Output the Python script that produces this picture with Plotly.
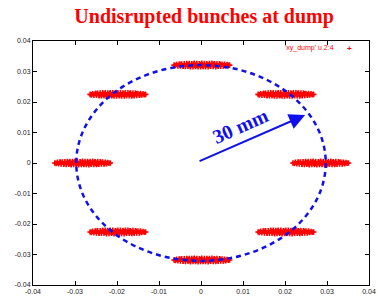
import plotly.graph_objects as go

# Bunch centres (m)
bunch_x = [0.0002, 0.0202, 0.0285, 0.0202, 0.0002, -0.0198, -0.0282, -0.0198]
bunch_y = [0.0321, 0.0225, 0.0000, -0.0226, -0.0318, -0.0226, 0.0000, 0.0225]

# Hand-read shape of one bunch cloud (offsets in mm)
cloud_dx = [-6.6, -6.3, -6.0, -5.7, -5.4, -5.1, -4.8, -4.5, -4.2, -3.9, -3.6, -3.3,
            -3.0, -2.7, -2.4, -2.1, -1.8, -1.5, -1.2, -0.9, -0.6, -0.3, 0.0, 0.3,
            0.6, 0.9, 1.2, 1.5, 1.8, 2.1, 2.4, 2.7, 3.0, 3.3, 3.6, 3.9, 4.2, 4.5,
            4.8, 5.1, 5.4, 5.7, 6.0, 6.3, 6.6,
            -5.2, -4.4, -3.6, -2.8, -2.0, -1.2, -0.4, 0.4, 1.2, 2.0, 2.8, 3.6,
            4.4, 5.2, -3.2, -1.6, 0.0, 1.6, 3.2]
cloud_dy = [0.0, -0.15, 0.2, -0.25, 0.3, -0.3, 0.35, -0.4, 0.4, -0.45, 0.5, -0.4,
            0.5, -0.55, 0.45, -0.5, 0.55, -0.45, 0.5, -0.55, 0.4, -0.5, 0.55, -0.45,
            0.5, -0.5, 0.45, -0.55, 0.5, -0.4, 0.55, -0.45, 0.4, -0.5, 0.45, -0.4,
            0.4, -0.35, 0.3, -0.3, 0.25, -0.2, 0.15, -0.1, 0.0,
            0.25, -0.25, 0.2, -0.2, 0.25, -0.15, 0.2, -0.25, 0.15, -0.2, 0.25, -0.2,
            0.2, -0.15, 0.05, -0.05, 0.0, 0.05, -0.05]

# Reference circle (drawn as dashed outline) and arrow
ring_rx = 0.0297
ring_ry = 0.0321
arrow_tail = (-0.0007, 0.0004)
arrow_tip = (0.0248, 0.0157)

tick_vals = [-0.04, -0.03, -0.02, -0.01, 0, 0.01, 0.02, 0.03, 0.04]
tick_text = ["-0.04", "-0.03", "-0.02", "-0.01", "0", "0.01", "0.02", "0.03", "0.04"]

px, py = [], []
for cx, cy in zip(bunch_x, bunch_y):
    for dx, dy in zip(cloud_dx, cloud_dy):
        px.append(cx + dx * 1e-3)
        py.append(cy + dy * 1e-3)

fig = go.Figure()
fig.add_trace(go.Scatter(
    x=px, y=py, mode="markers", showlegend=False,
    marker=dict(symbol="cross-thin", size=4, line=dict(color="#ff0000", width=1.6)),
))

fig.add_shape(type="circle", xref="x", yref="y",
              x0=-ring_rx, x1=ring_rx, y0=-ring_ry, y1=ring_ry,
              line=dict(color="#1010ee", width=2.5, dash="5px,4px"), layer="above")

fig.add_annotation(x=arrow_tip[0], y=arrow_tip[1], ax=arrow_tail[0], ay=arrow_tail[1],
                   xref="x", yref="y", axref="x", ayref="y", text="",
                   showarrow=True, arrowhead=2, arrowsize=1.6, arrowwidth=2,
                   arrowcolor="#1010ee")

fig.add_annotation(x=0.0093, y=0.0122, xref="x", yref="y", text="<b>30 mm</b>",
                   showarrow=False, textangle=-24,
                   font=dict(family="Liberation Serif", size=20, color="#1010ee"))

# Key (gnuplot style: text, then sample)
fig.add_annotation(x=0.902, y=0.971, xref="paper", yref="paper", text="'xy_dump' u 2:4",
                   showarrow=False, xanchor="right", yanchor="middle",
                   font=dict(family="Liberation Sans", size=7, color="#ff0000"))
fig.add_annotation(x=0.943, y=0.971, xref="paper", yref="paper", text="<b>+</b>",
                   showarrow=False, xanchor="center", yanchor="middle",
                   font=dict(family="Liberation Sans", size=8, color="#ff0000"))

fig.update_layout(
    width=378, height=297,
    margin=dict(l=33, r=9, t=41, b=12, autoexpand=False),
    paper_bgcolor="white", plot_bgcolor="white",
    title=dict(text="<b>Undisrupted bunches at dump</b>", x=0.54, xanchor="center",
               y=1 - 16 / 297, yanchor="middle",
               font=dict(family="Liberation Serif", size=20, color="#ff0000")),
)

axis_common = dict(
    range=[-0.04, 0.04], tickvals=tick_vals, ticktext=tick_text, automargin=False,
    ticks="inside", ticklen=4, tickcolor="black", showgrid=False, zeroline=False,
    showline=True, linecolor="black", linewidth=1, mirror="ticks",
    tickfont=dict(family="Liberation Sans", size=7, color="#222222"),
)
fig.update_xaxes(**axis_common)
fig.update_yaxes(**axis_common)

fig.write_html("out.html", config={"displayModeBar": False},
               post_script="document.body.style.margin='0px';document.body.style.padding='0px';")
